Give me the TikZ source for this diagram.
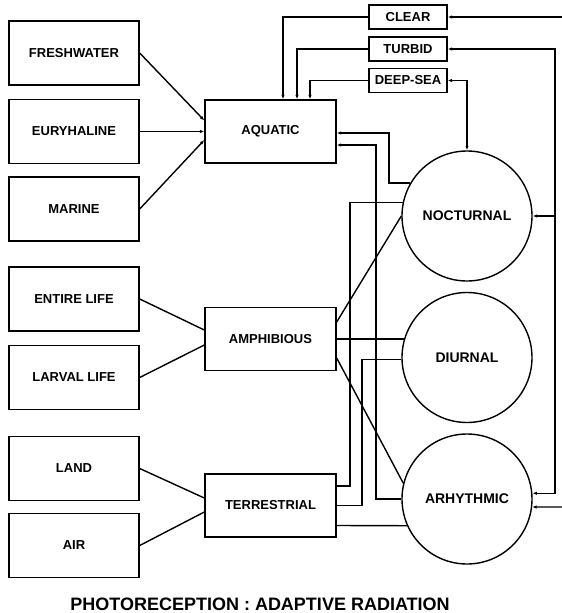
\documentclass[tikz,border=0pt]{standalone}
\usepackage{fontspec}
\setmainfont{Liberation Sans}
\usetikzlibrary{arrows.meta,calc}

\begin{document}
\begin{tikzpicture}[
    x=1pt, y=-1pt,
    lbl/.style={font=\bfseries\fontsize{13}{15}\selectfont},
    box/.style={rectangle,draw,line width=1.4pt,lbl,minimum width=130pt,minimum height=64pt,inner sep=0pt},
    midbox/.style={box,minimum width=131pt,minimum height=63pt},
    tagbox/.style={box,minimum width=78pt,minimum height=24pt},
    phase/.style={circle,draw,line width=1.4pt,font=\bfseries\fontsize{14}{16}\selectfont,minimum size=130pt,inner sep=0pt},
    link/.style={line width=1.4pt},
    >={Latex[length=4.5pt,width=3.5pt]}
    ]

    \useasboundingbox (0,0) rectangle (562,613);

    % habitat boxes on the left:
    \node (fresh) at (74, 53) [box] {FRESHWATER};
    \node (eury) at (74, 131.5) [box] {EURYHALINE};
    \node (marine) at (74, 209) [box] {MARINE};
    \node (entire) at (74, 299) [box] {ENTIRE LIFE};
    \node (larval) at (74, 377.5) [box] {LARVAL LIFE};
    \node (land) at (74, 468.5) [box] {LAND};
    \node (air) at (74, 545.5) [box] {AIR};

    % middle boxes:
    \node (aqua) at (270.5, 131.5) [midbox] {AQUATIC};
    \node (amph) at (270.5, 339) [midbox] {AMPHIBIOUS};
    \node (terr) at (270.5, 505.5) [midbox] {TERRESTRIAL};

    % water types:
    \node (clear) at (408, 17) [tagbox] {CLEAR};
    \node (turbid) at (408, 49) [tagbox] {TURBID};
    \node (deep) at (408, 80.5) [tagbox] {DEEP-SEA};

    % activity circles:
    \node (noct) at (467, 216) [phase] {NOCTURNAL};
    \node (diur) at (467, 357.5) [phase] {DIURNAL};
    \node (arhy) at (467, 499) [phase] {ARHYTHMIC};

    % title:
    \node (title) at (260, 604) [font=\bfseries\fontsize{18}{20}\selectfont] {PHOTORECEPTION : ADAPTIVE RADIATION};

    % loose ends at the right margin:
    \coordinate (clearout) at (562, 17);
    \coordinate (arhyout) at (562, 507);
    \coordinate (tcorner) at (555, 49);

    % connect nodes:

    \draw [link,->] (fresh.east) to ($(aqua.west)+(0,-11)$);
    \draw [link,->] (eury.east) to (aqua.west);
    \draw [link,->] (marine.east) to ($(aqua.west)+(0,8.5)$);
    \draw [link] (entire.east) to ($(amph.west)+(0,-9)$);
    \draw [link] (larval.east) to ($(amph.west)+(0,6)$);
    \draw [link] (land.east) to ($(terr.west)+(0,-7.5)$);
    \draw [link] (air.east) to ($(terr.west)+(0,6.5)$);

    \draw [link,->] (clear.west) -| ($(aqua.north)+(12.5,0)$);
    \draw [link,->] (turbid.west) -| ($(aqua.north)+(26.5,0)$);
    \draw [link,->] (deep.west) -| ($(aqua.north)+(39.5,0)$);
    \draw [link,<->] (deep.east) -| (noct.north);

    \draw [link,->] (clearout) to (clear.east);
    \draw [link,->] (arhyout) to (arhy.-7);
    \draw [link,<->] (turbid.east) -- (tcorner) |- (arhy.5);
    \draw [link,->] (tcorner |- noct.east) to (noct.east);

    \draw [link,<-] ($(aqua.east)+(0,1.5)$) -- (389, 133) |- (noct.150);
    \draw [link,<-] ($(aqua.east)+(0,13.5)$) -- (376, 145) |- (arhy.west);

    \draw [link] ($(amph.east)+(0,-17)$) to (noct.west);
    \draw [link] (amph.east) to (amph.east -| diur.164);
    \draw [link] ($(amph.east)+(0,19)$) to (arhy.166);

    \draw [link] ($(terr.east)+(0,-19.5)$) -- (350, 486) |- (noct.168);
    \draw [link] (terr.east) -- (362, 505.5) |- (diur.182);
    \draw [link] ($(terr.east)+(0,20)$) to (arhy.204);

  \end{tikzpicture}
\end{document}
